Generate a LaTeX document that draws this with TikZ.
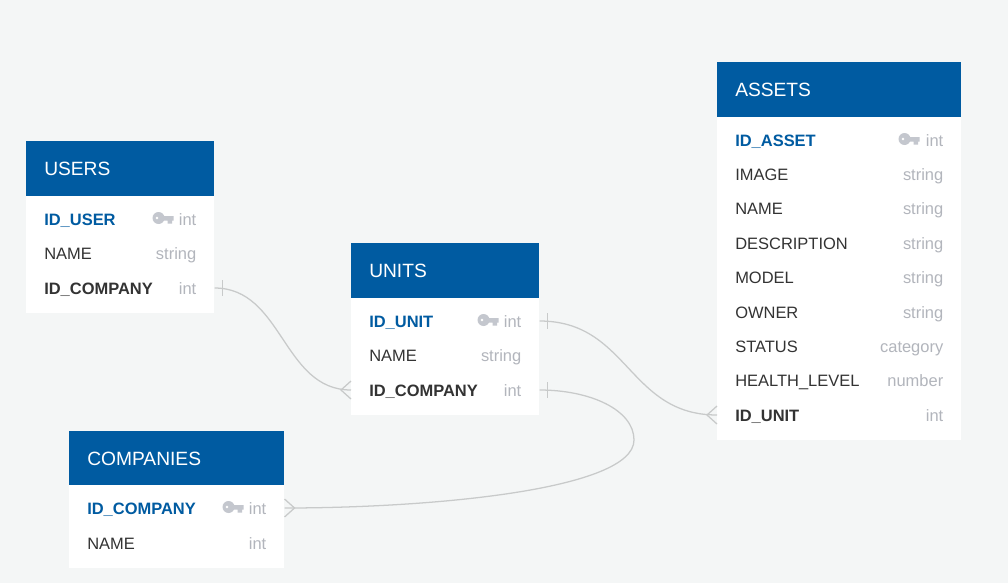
\documentclass[tikz,border=0pt]{standalone}
\usepackage{fontspec}
\setmainfont{Liberation Sans}
\usetikzlibrary{positioning,calc}
\definecolor{Page}{HTML}{F4F6F6}
\definecolor{Head}{HTML}{005BA1}
\definecolor{Ink}{HTML}{333333}
\definecolor{Muted}{HTML}{B2B5BC}
\definecolor{KeyGray}{HTML}{C4C7CE}
\definecolor{Rel}{HTML}{C8CACA}
\newcommand{\typetext}[1]{{\normalfont\color{Muted}#1}}
\tikzset{
 tablehead/.style={fill=Head,text=white,anchor=north west,font=\fontsize{14.4}{16}\selectfont,text width=#1,inner xsep=13.5pt,inner ysep=0pt,minimum height=41.25pt,text height=10pt,text depth=0pt},
 tablebody/.style={fill=white,anchor=north west,inner sep=0pt,minimum width=#1},
 rowbox/.style={anchor=west,text width=#1,align=left,inner xsep=13.5pt,inner ysep=0pt,text height=9.5pt,text depth=0pt,font=\fontsize{12.35}{14}\selectfont},
 plainrow/.style={text=Ink},
 fkrow/.style={text=Ink,font=\fontsize{12.35}{14}\selectfont\bfseries},
 pkrow/.style={text=Head,font=\fontsize{12.35}{14}\selectfont\bfseries},
 rel/.style={draw=Rel,line width=0.95pt},
 keyicon/.pic={\fill[KeyGray,even odd rule] (6,-1) circle[radius=6] (4.5,-1) circle[radius=1.7];
  \fill[KeyGray] (9,-3) rectangle (21,1.5) (15,1) rectangle (19.5,4.5);}
}
\begin{document}
\begin{tikzpicture}[x=0.75pt,y=-0.75pt]
\useasboundingbox[fill=Page] (0,0) rectangle (1008,583);
% users
\node[tablehead=114pt] (users) at (26,141) {USERS};
\node[tablebody=141pt,minimum height=87.75pt] (usersbody) at (26,196) {};
\foreach \n/\lab/\t/\y/\st in {userid/ID\_USER/int/219/pkrow,username/NAME/string/253/plainrow,usercompany/ID\_COMPANY/int/288/fkrow}
 \node[rowbox=114pt,\st] (\n) at (26,\y) {\lab\hfill\typetext{\t}};
\pic at ([xshift=-62*0.75]userid.east) {keyicon};
% units
\node[tablehead=114pt] (units) at (351,243) {UNITS};
\node[tablebody=141pt,minimum height=87.75pt] (unitsbody) at (351,298) {};
\foreach \n/\lab/\t/\y/\st in {unitid/ID\_UNIT/int/321/pkrow,unitname/NAME/string/355/plainrow,unitcompany/ID\_COMPANY/int/390/fkrow}
 \node[rowbox=114pt,\st] (\n) at (351,\y) {\lab\hfill\typetext{\t}};
\pic at ([xshift=-62*0.75]unitid.east) {keyicon};
% assets
\node[tablehead=156pt] (assets) at (717,62) {ASSETS};
\node[tablebody=183pt,minimum height=242.25pt] (assetsbody) at (717,117) {};
\foreach \n/\lab/\t/\y/\st in {assetid/ID\_ASSET/int/140/pkrow,assetimage/IMAGE/string/174/plainrow,assetname/NAME/string/208/plainrow,assetdesc/DESCRIPTION/string/243/plainrow,assetmodel/MODEL/string/277/plainrow,assetowner/OWNER/string/312/plainrow,assetstatus/STATUS/category/346/plainrow,assethealth/HEALTH\_LEVEL/number/380/plainrow,assetunit/ID\_UNIT/int/415/fkrow}
 \node[rowbox=156pt,\st] (\n) at (717,\y) {\lab\hfill\typetext{\t}};
\pic at ([xshift=-63*0.75]assetid.east) {keyicon};
% companies
\node[tablehead=134.25pt] (companies) at (69,431) {COMPANIES};
\node[tablebody=161.25pt,minimum height=62.25pt] (companiesbody) at (69,485) {};
\foreach \n/\lab/\t/\y/\st in {companyid/ID\_COMPANY/int/508/pkrow,companyname/NAME/int/543/plainrow}
 \node[rowbox=134.25pt,\st] (\n) at (69,\y) {\lab\hfill\typetext{\t}};
\pic at ([xshift=-62*0.75]companyid.east) {keyicon};
% relations
\draw[rel] (usercompany.east) .. controls ($(usercompany.east)+(68.5,0)$) and ($(unitcompany.west)+(-68.5,0)$) .. (unitcompany.west);
\draw[rel] (unitid.east) .. controls ($(unitid.east)+(89,0)$) and ($(assetunit.west)+(-89,0)$) .. (assetunit.west);
\draw[rel] (unitcompany.east) .. controls ($(unitcompany.east)+(51,0)$) and (634,410) .. (634,440) .. controls (634,490) and (430,508) .. (companyid.east);
\foreach \n in {usercompany,unitid,unitcompany}
 \draw[rel] ([shift={(8,-8)}]\n.east) -- ([shift={(8,8)}]\n.east);
\foreach \n in {unitcompany,assetunit}
 \draw[rel] ([shift={(0,-9)}]\n.west) -- ([shift={(-10,0)}]\n.west) -- ([shift={(0,9)}]\n.west);
\draw[rel] ([shift={(0,-9)}]companyid.east) -- ([shift={(10,0)}]companyid.east) -- ([shift={(0,9)}]companyid.east);
\end{tikzpicture}
\end{document}
